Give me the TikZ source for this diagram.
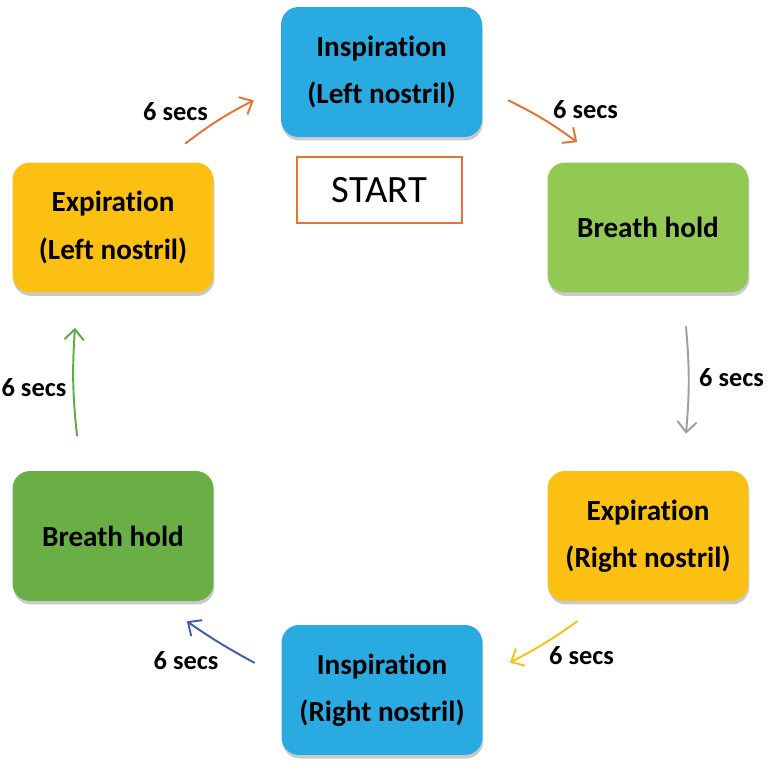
\documentclass[tikz,border=0pt]{standalone}
\usepackage{fontspec}
\setmainfont{Carlito}[Ligatures=NoCommon]
\usetikzlibrary{arrows.meta,shadows}
\definecolor{skyblue}{HTML}{29ABE2}
\definecolor{leafgreen}{HTML}{92C952}
\definecolor{darkleaf}{HTML}{6AAF45}
\definecolor{amber}{HTML}{FCC013}
\definecolor{rust}{HTML}{E8722F}
\definecolor{ash}{HTML}{9E9E9E}
\definecolor{navy}{HTML}{3D5DAE}
\definecolor{grass}{HTML}{5DAA45}
\tikzset{
  phase/.style={rounded corners=10pt, minimum width=4.02cm, minimum height=2.6cm,
    align=center, inner sep=0pt, text=black,
    font=\fontsize{16.6}{27}\selectfont\bfseries,
    drop shadow={shadow xshift=0.5pt, shadow yshift=-2pt, opacity=0.35, fill=black!60}},
  cyc/.style={line width=1.1pt, line cap=round, -{Straight Barb[length=6pt,width=11pt,line width=1.1pt]}},
  secs/.style={text=black, font=\fontsize{15}{18}\selectfont\bfseries},
  startbox/.style={draw=rust, line width=1.2pt, fill=white, minimum width=3.3cm,
    minimum height=1.32cm, font=\fontsize{22}{26}\selectfont},
}
\begin{document}
\begin{tikzpicture}[x=0.02cm, y=0.02cm]
  \useasboundingbox (0,0) rectangle (768,768);
  % the six phases of one round
  \node[phase, fill=skyblue]   (insL)  at (381.5,696) {Inspiration\\(Left nostril)};
  \node[phase, fill=leafgreen] (holdR) at (648,540.5) {Breath hold};
  \node[phase, fill=amber]     (expR)  at (648,232)   {Expiration\\(Right nostril)};
  \node[phase, fill=skyblue]   (insR)  at (382,78)    {Inspiration\\(Right nostril)};
  \node[phase, fill=darkleaf]  (holdL) at (113,232)   {Breath hold};
  \node[phase, fill=amber]     (expL)  at (113,540.5) {Expiration\\(Left nostril)};
  \node[startbox] (start) at (379.5,578) {START};
  % arrows
  \draw[cyc, rust] ([shift={(26,37)}]insL.south east) to[bend left=5] ([shift={(30,20)}]holdR.north west);
  \draw[cyc, ash] ([shift={(38,-34)}]holdR.south) to[bend left=5] ([shift={(38,37)}]expR.north);
  \draw[cyc, amber] ([shift={(30,-20)}]expR.south west) to[bend left=4] ([shift={(27,-38)}]insR.north east);
  \draw[cyc, navy] ([shift={(-27,-38)}]insR.north west) to[bend left=3] ([shift={(-27,-20)}]holdL.south east);
  \draw[cyc, grass] ([shift={(-36,35)}]holdL.north) to[bend left=5] ([shift={(-38,-35)}]expL.south);
  \draw[cyc, rust] ([shift={(-28,19)}]expL.north east) to[bend left=5] ([shift={(-27,37)}]insL.south west);
  \node[secs] (s1) at (585.5,658) {6 secs};
  \node[secs] (s2) at (731.5,390) {6 secs};
  \node[secs] (s3) at (581.5,112) {6 secs};
  \node[secs] (s4) at (186,107)   {6 secs};
  \node[secs] (s5) at (34,380)    {6 secs};
  \node[secs] (s6) at (175.5,656) {6 secs};
\end{tikzpicture}
\end{document}
